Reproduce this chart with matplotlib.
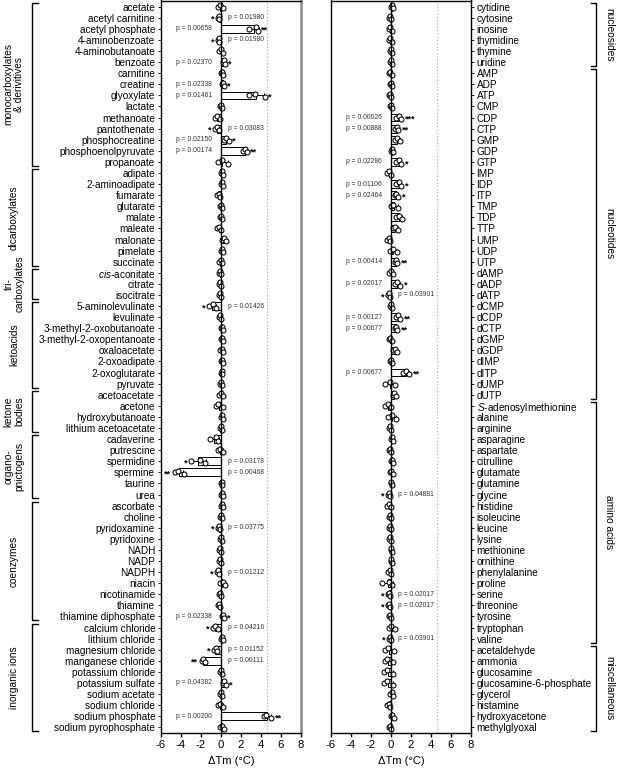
import matplotlib
matplotlib.use('Agg')
import matplotlib.pyplot as plt
from matplotlib.transforms import blended_transform_factory
import numpy as np

plt.rcParams['font.family'] = ['Liberation Sans', 'DejaVu Sans']
plt.rcParams['axes.unicode_minus'] = False
plt.rcParams['mathtext.fontset'] = 'custom'
plt.rcParams['mathtext.rm'] = 'Liberation Sans'
plt.rcParams['mathtext.it'] = 'Liberation Sans:italic'

# ---- left panel data ----
left_labels = [
    'acetate', 'acetyl carnitine', 'acetyl phosphate', '4-aminobenzoate', '4-aminobutanoate',
    'benzoate', 'carnitine', 'creatine', 'glyoxylate', 'lactate', 'methanoate', 'pantothenate',
    'phosphocreatine', 'phosphoenolpyruvate', 'propanoate',
    'adipate', '2-aminoadipate', 'fumarate', 'glutarate', 'malate', 'maleate', 'malonate',
    'pimelate', 'succinate',
    r'$\mathit{cis}$-aconitate', 'citrate', 'isocitrate',
    '5-aminolevulinate', 'levulinate', '3-methyl-2-oxobutanoate', '3-methyl-2-oxopentanoate',
    'oxaloacetate', '2-oxoadipate', '2-oxoglutarate', 'pyruvate',
    'acetoacetate', 'acetone', 'hydroxybutanoate', 'lithium acetoacetate',
    'cadaverine', 'putrescine', 'spermidine', 'spermine', 'taurine', 'urea',
    'ascorbate', 'choline', 'pyridoxamine', 'pyridoxine', 'NADH', 'NADP', 'NADPH', 'niacin',
    'nicotinamide', 'thiamine', 'thiamine diphosphate',
    'calcium chloride', 'lithium chloride', 'magnesium chloride', 'manganese chloride',
    'potassium chloride', 'potassium sulfate', 'sodium acetate', 'sodium chloride',
    'sodium phosphate', 'sodium pyrophosphate',
]
left_reps = [
    (-0.3, -0.1, 0.2), (-0.3, -0.2, -0.15), (2.8, 3.5, 3.7), (-0.3, -0.2, -0.15), (-0.2, 0.0, 0.2),
    (0.2, 0.3, 0.4), (0.0, 0.1, 0.2), (0.1, 0.2, 0.3), (2.8, 3.4, 4.4), (-0.1, 0.0, 0.1),
    (-0.6, -0.4, -0.1), (-0.6, -0.4, -0.2), (0.3, 0.5, 0.8), (2.2, 2.4, 2.6), (-0.3, 0.1, 0.7),
    (0.0, 0.1, 0.2), (0.0, 0.1, 0.2), (-0.4, -0.2, -0.1), (-0.1, 0.0, 0.1), (-0.1, 0.0, 0.1),
    (-0.4, -0.2, 0.0), (0.1, 0.3, 0.5), (0.0, 0.1, 0.2), (-0.2, 0.0, 0.1),
    (-0.2, -0.1, 0.0), (-0.2, -0.1, 0.0), (-0.2, -0.1, 0.0),
    (-1.2, -0.8, -0.5), (-0.2, -0.1, 0.0), (0.0, 0.1, 0.2), (0.0, 0.1, 0.2),
    (-0.1, 0.1, 0.2), (0.0, 0.1, 0.2), (0.0, 0.1, 0.15), (-0.1, 0.0, 0.1),
    (-0.2, 0.0, 0.2), (-0.5, -0.3, 0.2), (0.0, 0.1, 0.2), (-0.1, 0.0, 0.1),
    (-1.1, -0.5, -0.3), (-0.3, -0.1, 0.2), (-3.0, -2.1, -1.6), (-4.6, -4.3, -3.7), (0.0, 0.1, 0.15), (0.0, 0.1, 0.2),
    (0.0, 0.1, 0.2), (-0.1, 0.0, 0.1), (-0.3, -0.2, -0.1), (-0.1, 0.0, 0.1), (-0.2, -0.1, 0.0),
    (-0.2, -0.1, 0.0), (-0.4, -0.3, -0.2), (-0.1, 0.2, 0.4), (-0.2, -0.1, 0.0), (-0.3, -0.2, -0.1),
    (0.1, 0.2, 0.3),
    (-0.8, -0.6, -0.3), (0.0, 0.1, 0.2), (-0.7, -0.5, -0.4), (-1.9, -1.8, -1.6), (-0.1, 0.0, 0.1),
    (0.2, 0.3, 0.5), (-0.1, 0.0, 0.1), (-0.3, -0.1, 0.2), (4.3, 4.5, 5.0), (-0.1, 0.1, 0.3),
]
left_pvals = {
    'acetyl carnitine': '0.01980', 'acetyl phosphate': '0.00658', '4-aminobenzoate': '0.01980',
    'benzoate': '0.02370', 'creatine': '0.02338', 'glyoxylate': '0.01461',
    'pantothenate': '0.03083', 'phosphocreatine': '0.02150', 'phosphoenolpyruvate': '0.00174',
    '5-aminolevulinate': '0.01426', 'spermidine': '0.03178', 'spermine': '0.00468',
    'pyridoxamine': '0.03775', 'NADPH': '0.01212', 'thiamine diphosphate': '0.02338',
    'calcium chloride': '0.04216', 'magnesium chloride': '0.01152',
    'manganese chloride': '0.00111', 'potassium sulfate': '0.04382', 'sodium phosphate': '0.00200',
}
left_groups = [
    ('monocarboxylates\n& derivitives', 15), ('dicarboxylates', 9), ('tri-\ncarboxylates', 3),
    ('ketoacids', 8), ('ketone\nbodies', 4), ('organo-\npnictogens', 6), ('coenzymes', 11),
    ('inorganic ions', 10),
]

# ---- right panel data ----
right_labels = [
    'cytidine', 'cytosine', 'inosine', 'thymidine', 'thymine', 'uridine',
    'AMP', 'ADP', 'ATP', 'CMP', 'CDP', 'CTP', 'GMP', 'GDP', 'GTP', 'IMP', 'IDP', 'ITP',
    'TMP', 'TDP', 'TTP', 'UMP', 'UDP', 'UTP', 'dAMP', 'dADP', 'dATP', 'dCMP', 'dCDP', 'dCTP',
    'dGMP', 'dGDP', 'dIMP', 'dITP', 'dUMP', 'dUTP',
    r'$\mathit{S}$-adenosylmethionine', 'alanine', 'arginine', 'asparagine', 'aspartate',
    'citrulline', 'glutamate', 'glutamine', 'glycine', 'histidine', 'isoleucine', 'leucine',
    'lysine', 'methionine', 'ornithine', 'phenylalanine', 'proline', 'serine', 'threonine',
    'tyrosine', 'tryptophan', 'valine',
    'acetaldehyde', 'ammonia', 'glucosamine', 'glucosamine-6-phosphate', 'glycerol',
    'histamine', 'hydroxyacetone', 'methylglyoxal',
]
right_reps = [
    (0.0, 0.1, 0.2), (-0.2, -0.1, 0.0), (-0.2, -0.1, 0.1), (-0.2, -0.1, 0.1), (-0.1, 0.0, 0.1), (-0.1, -0.05, 0.05),
    (-0.2, -0.1, 0.1), (-0.1, 0.0, 0.1), (-0.2, -0.1, 0.0), (-0.1, 0.0, 0.1), (0.5, 0.8, 1.0), (0.4, 0.6, 0.7),
    (0.4, 0.6, 0.9), (0.0, 0.1, 0.2), (0.5, 0.8, 1.0), (-0.4, -0.2, 0.0), (0.5, 0.8, 1.0), (0.4, 0.5, 0.7),
    (0.0, 0.2, 0.7), (0.5, 0.8, 1.1), (0.2, 0.4, 0.7), (-0.4, -0.2, -0.1), (-0.1, 0.2, 0.6), (0.4, 0.5, 0.6),
    (-0.2, 0.0, 0.2), (0.4, 0.6, 0.9), (-0.3, -0.2, -0.1), (-0.1, 0.0, 0.1), (0.5, 0.7, 0.9), (0.4, 0.5, 0.6),
    (-0.2, -0.1, 0.1), (0.2, 0.4, 0.6), (-0.1, 0.0, 0.1), (1.2, 1.5, 1.8), (-0.6, -0.1, 0.4), (0.2, 0.3, 0.5),
    (-0.6, -0.3, 0.0), (-0.3, 0.1, 0.5), (-0.2, -0.1, 0.0), (0.0, 0.1, 0.2), (-0.2, -0.1, 0.0),
    (0.0, 0.1, 0.2), (-0.1, 0.0, 0.2), (-0.05, 0.0, 0.05), (-0.3, -0.2, -0.1), (-0.4, -0.2, 0.0),
    (-0.2, -0.1, 0.0), (-0.2, -0.1, 0.0), (-0.2, -0.1, 0.0), (-0.05, 0.0, 0.05), (-0.05, 0.0, 0.05),
    (-0.3, -0.1, 0.0), (-0.9, -0.2, 0.1), (-0.3, -0.2, -0.1), (-0.3, -0.2, -0.1), (-0.2, -0.1, 0.0),
    (-0.2, 0.0, 0.4), (-0.2, -0.1, 0.0),
    (-0.6, -0.3, 0.3), (-0.6, -0.4, 0.2), (-0.7, -0.4, 0.2), (-0.7, -0.4, 0.2), (-0.1, 0.1, 0.2),
    (-0.4, -0.2, -0.1), (0.0, 0.1, 0.3), (-0.2, -0.1, 0.0),
]
right_pvals = {
    'CDP': '0.00026', 'CTP': '0.00888', 'GTP': '0.02286', 'IDP': '0.01106', 'ITP': '0.02464',
    'UTP': '0.00414', 'dADP': '0.02017', 'dATP': '0.03901', 'dCDP': '0.00127', 'dCTP': '0.00677',
    'dITP': '0.00677', 'glycine': '0.04881', 'serine': '0.02017', 'threonine': '0.02017',
    'valine': '0.03901',
}
right_groups = [('nucleosides', 6), ('nucleotides', 30), ('amino acids', 22), ('miscellaneous', 8)]

xticks = [-6, -4, -2, 0, 2, 4, 6, 8]
ref_line = 4.6


def stars(p):
    p = float(p)
    if p < 0.001:
        return '***'
    if p < 0.01:
        return '**'
    return '*'


def draw_panel(ax, labels, reps, pvals):
    reps = np.array(reps)
    means = reps.mean(axis=1)
    sds = reps.std(axis=1, ddof=1)
    y = np.arange(len(labels))

    ax.axvline(ref_line, color='#b0b0b0', ls=':', lw=0.9, zorder=1)
    ax.barh(y, means, height=0.7, color='white', edgecolor='black', lw=0.7, zorder=2)
    ax.errorbar(means, y, xerr=sds, fmt='none', ecolor='black', elinewidth=0.7,
                capsize=1.5, capthick=0.7, zorder=3)
    offs = [0.0, -0.15, 0.15]
    for k in range(reps.shape[1]):
        ax.plot(reps[:, k], y + offs[k], 'o', ms=3.6, mfc='white', mec='black', mew=0.75,
                zorder=4, clip_on=False)
    ax.axvline(0, color='black', lw=1.0, zorder=5)

    for i, name in enumerate(labels):
        if name not in pvals:
            continue
        p = pvals[name]
        if means[i] > 0:
            ax.text(-4.5, i, f'p = {p}', fontsize=4.9, color='#333333', ha='left', va='center')
            ax.text(reps[i].max() + 0.35, i + 0.15, stars(p), fontsize=6.5, ha='left', va='center',
                    fontweight='bold')
        else:
            ax.text(0.7, i, f'p = {p}', fontsize=4.9, color='#333333', ha='left', va='center')
            ax.text(reps[i].min() - 0.35, i + 0.15, stars(p), fontsize=6.5, ha='right', va='center',
                    fontweight='bold')

    ax.set_xlim(-6, 8)
    ax.set_ylim(len(labels) - 0.49, -0.56)
    ax.set_xticks(xticks)
    ax.set_xticklabels([str(t) for t in xticks], fontsize=8.2)
    ax.set_yticks(y)
    ax.set_yticklabels(labels, fontsize=7.2)
    ax.tick_params(axis='y', length=2.5, width=0.6, pad=1.5)
    ax.tick_params(axis='x', length=3, width=1.0, pad=2)
    ax.set_xlabel('ΔTm (°C)', fontsize=8, labelpad=4)
    for s in ax.spines.values():
        s.set_linewidth(1.0)


def draw_brackets(fig, ax, groups, x_line, x_tick, x_text, rot):
    tr = blended_transform_factory(fig.transFigure, ax.transData)
    start = 0
    for name, n in groups:
        top = start - 0.5 + 0.15
        bot = start + n - 0.5 - 0.15
        ax.plot([x_tick, x_line, x_line, x_tick], [top, top, bot, bot], color='black',
                lw=1.0, transform=tr, clip_on=False)
        ax.text(x_text, start + (n - 1) / 2, name, transform=tr, rotation=rot, fontsize=7.3,
                ha='center', va='center', multialignment='center', linespacing=1.1)
        start += n


W, H = 617, 769
fig = plt.figure(figsize=(W / 100, H / 100), dpi=100)
ax1 = fig.add_axes([160.7 / W, 36 / H, 140.3 / W, 732.5 / H])
ax2 = fig.add_axes([331 / W, 36 / H, 140 / W, 732.5 / H])

draw_panel(ax1, left_labels, left_reps, left_pvals)
draw_panel(ax2, right_labels, right_reps, right_pvals)
ax1.spines['right'].set_color('#8c8c8c')
ax1.spines['right'].set_linewidth(1.8)
ax2.yaxis.tick_right()

draw_brackets(fig, ax1, left_groups, 32.3 / W, 38 / W, 14 / W, 90)
draw_brackets(fig, ax2, right_groups, 596 / W, 591 / W, 609 / W, 270)

fig.savefig('out.png', dpi=100)
